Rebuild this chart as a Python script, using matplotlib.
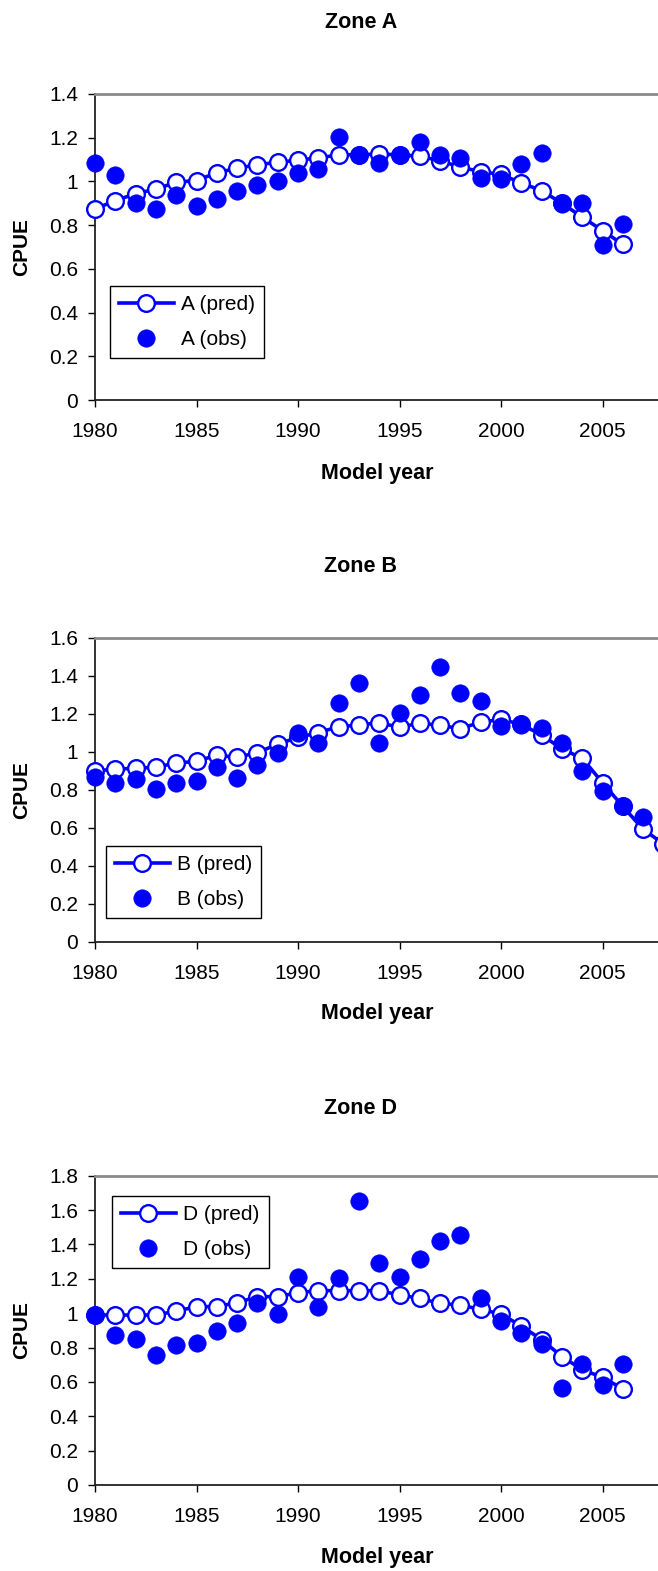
import matplotlib
matplotlib.use("Agg")
import matplotlib.pyplot as plt

plt.rcParams['font.family'] = ['Liberation Sans', 'DejaVu Sans']

# ---- data -------------------------------------------------------------
years_a = list(range(1980, 2007))
pred_a = [0.874, 0.912, 0.944, 0.965, 0.996, 1.004, 1.040, 1.060, 1.077, 1.087,
          1.098, 1.107, 1.122, 1.122, 1.125, 1.122, 1.115, 1.095, 1.065, 1.045,
          1.032, 0.993, 0.958, 0.900, 0.837, 0.775, 0.712]
obs_a = [1.086, 1.029, 0.900, 0.874, 0.938, 0.886, 0.920, 0.956, 0.985, 1.004,
         1.037, 1.058, 1.205, 1.121, 1.083, 1.122, 1.179, 1.119, 1.106, 1.017,
         1.011, 1.078, 1.132, 0.897, 0.903, 0.709, 0.805]

years_b_pred = list(range(1980, 2009))
pred_b = [0.898, 0.909, 0.912, 0.919, 0.940, 0.949, 0.982, 0.970, 0.995, 1.040,
          1.075, 1.100, 1.132, 1.140, 1.153, 1.128, 1.151, 1.138, 1.122, 1.155,
          1.170, 1.144, 1.088, 1.015, 0.965, 0.837, 0.712, 0.592, 0.515]
years_b_obs = list(range(1980, 2008))
obs_b = [0.865, 0.837, 0.856, 0.802, 0.837, 0.847, 0.918, 0.860, 0.930, 0.995,
         1.100, 1.047, 1.258, 1.363, 1.047, 1.205, 1.300, 1.447, 1.309, 1.268,
         1.137, 1.138, 1.125, 1.047, 0.897, 0.794, 0.716, 0.658]

years_d = list(range(1980, 2007))
pred_d = [0.989, 0.989, 0.989, 0.989, 1.012, 1.038, 1.038, 1.061, 1.096, 1.096,
          1.119, 1.131, 1.131, 1.131, 1.131, 1.106, 1.086, 1.057, 1.047, 1.022,
          0.995, 0.925, 0.846, 0.747, 0.672, 0.626, 0.560]
obs_d = [0.989, 0.873, 0.848, 0.756, 0.815, 0.828, 0.898, 0.945, 1.057, 0.993,
         1.212, 1.038, 1.202, 1.654, 1.290, 1.212, 1.315, 1.420, 1.457, 1.087,
         0.956, 0.886, 0.818, 0.562, 0.706, 0.582, 0.702]

year_ticks = [1980, 1985, 1990, 1995, 2000, 2005]

# ---- layout (pixel units) --------------------------------------------
W, H = 658, 1571
PX_PER_YEAR = 20.3
X0, X1 = 1980, 2010
BLUE = '#0000FF'

fig = plt.figure(figsize=(W / 100, H / 100), dpi=100)


def panel(title, years_p, pred, years_o, obs, ymax, top, bottom,
          zone, legend_corner, title_y, xlabel_y, left=95):
    width = (X1 - X0) * PX_PER_YEAR
    ax = fig.add_axes([left / W, 1 - bottom / H, width / W, (bottom - top) / H])
    ln_pred, = ax.plot(years_p, pred, color=BLUE, lw=2.6, marker='o', ms=12,
                       mfc='white', mec=BLUE, mew=1.7, zorder=3,
                       label=f'{zone} (pred)', clip_on=False)
    ln_obs, = ax.plot(years_o, obs, ls='none', marker='o', ms=12.5, mfc=BLUE,
                      mec=BLUE, mew=0.5, zorder=4, label=f'{zone} (obs)',
                      clip_on=False)
    ax.set_xlim(X0, X1)
    ax.set_ylim(0, ymax)
    ax.set_xticks(year_ticks)
    ax.set_xticklabels([str(y) for y in year_ticks])
    yt = [round(0.2 * i, 1) for i in range(int(round(ymax / 0.2)) + 1)]
    ax.set_yticks(yt)
    ax.set_yticklabels([f'{v:g}' for v in yt])
    ax.tick_params(axis='both', direction='out', length=5, width=1,
                   labelsize=15, colors='black')
    ax.tick_params(axis='y', pad=7)
    ax.tick_params(axis='x', pad=11)
    for side in ('left', 'bottom'):
        ax.spines[side].set_color('#222222')
        ax.spines[side].set_linewidth(1.3)
    ax.spines['top'].set_color('#8a8a8a')
    ax.spines['top'].set_linewidth(2)
    ax.spines['right'].set_visible(False)

    fig.text(22 / W, 1 - (top + bottom) / 2 / H, 'CPUE', rotation=90,
             ha='center', va='center', fontsize=15, fontweight='bold')
    fig.text(361 / W, 1 - title_y / H, title, ha='center', va='center',
             fontsize=15.5, fontweight='bold')
    fig.text(377 / W, 1 - xlabel_y / H, 'Model year', ha='center', va='center',
             fontsize=15.5, fontweight='bold')

    lx0, ly0 = legend_corner
    leg = ax.legend(handles=[ln_pred, ln_obs], loc='upper left',
                    bbox_to_anchor=(lx0 / W, 1 - ly0 / H),
                    bbox_transform=fig.transFigure, borderaxespad=0,
                    fontsize=15, handlelength=2.6, handletextpad=0.35,
                    labelspacing=0.75, borderpad=0.45, numpoints=1,
                    fancybox=False, framealpha=1, edgecolor='black')
    leg.get_frame().set_linewidth(1.0)
    return ax


panel('Zone A', years_a, pred_a, years_a, obs_a, 1.4, 94, 400, 'A',
      (110, 286), 22, 473)
panel('Zone B', years_b_pred, pred_b, years_b_obs, obs_b, 1.6, 637.7, 941.7, 'B',
      (106, 846), 566, 1014)
panel('Zone D', years_d, pred_d, years_d, obs_d, 1.8, 1175.7, 1485, 'D',
      (112, 1196), 1108, 1558)

fig.savefig('out.png', dpi=100)
